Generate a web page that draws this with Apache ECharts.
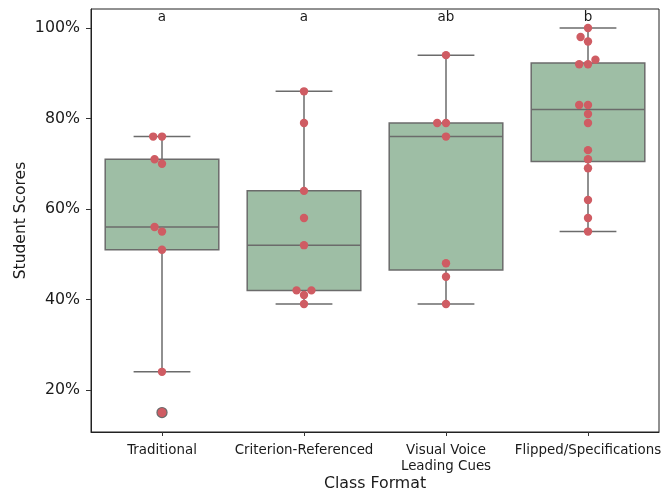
<!DOCTYPE html>
<html><head><meta charset="utf-8">
<script src="https://cdn.jsdelivr.net/npm/echarts@6/dist/echarts.min.js"></script>
<style>html,body{margin:0;padding:0;background:#fff}#c{width:663px;height:497px}</style>
</head><body><div id="c"></div>
<script>
const categories = ['Traditional', 'Criterion-Referenced', 'Visual Voice\nLeading Cues', 'Flipped/Specifications'];
const letters = ['a', 'a', 'ab', 'b'];
const traditional = [76, 76, 71, 70, 56, 55, 51, 24, 15];
const criterion = [86, 79, 64, 58, 52, 42, 42, 41, 39];
const visualVoice = [94, 79, 79, 76, 48, 45, 39];
const flipped = [100, 98, 97, 93, 92, 92, 83, 83, 81, 79, 73, 71, 69, 62, 58, 55];
const yTicks = [20, 40, 60, 80, 100];
const groups = [traditional, criterion, visualVoice, flipped];

const FONT = 'DejaVu Sans';
const TXT = '#1a1a1a';
const BOX_FILL = '#9ebea5';
const EDGE = '#6b6b6b';
const DOT = '#cf5c63';
const R = 4.2;

function quantile(s, p) {
  const pos = (s.length - 1) * p, lo = Math.floor(pos), hi = Math.ceil(pos);
  return s[lo] + (s[hi] - s[lo]) * (pos - lo);
}
const stats = groups.map((g, i) => {
  const s = [...g].sort((a, b) => a - b);
  const q1 = quantile(s, 0.25), med = quantile(s, 0.5), q3 = quantile(s, 0.75);
  const iqr = q3 - q1;
  const lo = s.find(v => v >= q1 - 1.5 * iqr);
  const hi = [...s].reverse().find(v => v <= q3 + 1.5 * iqr);
  return { i, lo, q1, med, q3, hi, fliers: s.filter(v => v < lo || v > hi) };
});
const boxData = stats.map(s => [s.i, s.lo, s.q1, s.med, s.q3, s.hi]);
const flierData = [];
stats.forEach(s => s.fliers.forEach(v => flierData.push([s.i, v])));
const pointData = [];
groups.forEach((g, i) => g.forEach((v, k) => pointData.push([i, v, k])));
const letterData = letters.map((l, i) => [i, 0]);

const swarmCache = {};
function swarmOffsets(gi, ppu) {
  const key = gi + '_' + ppu.toFixed(5);
  if (swarmCache[key]) return swarmCache[key];
  const vals = groups[gi];
  const order = vals.map((v, k) => k).sort((a, b) => vals[a] - vals[b]);
  const d = 2 * R;
  const placed = [], off = new Array(vals.length);
  order.forEach(k => {
    const y = vals[k] * ppu;
    const neigh = placed.filter(p => Math.abs(p.y - y) < d);
    const cands = [0];
    neigh.forEach(p => {
      const dy = y - p.y;
      const dx = Math.sqrt(Math.max(d * d - dy * dy, 0)) * 1.05;
      cands.push(p.x - dx, p.x + dx);
    });
    const sc = cands.map((c, idx) => ({ c, idx })).sort((a, b) => (Math.abs(a.c) - Math.abs(b.c)) || (a.idx - b.idx));
    let x = 0;
    for (const o of sc) {
      if (neigh.every(p => Math.hypot(p.x - o.c, p.y - y) >= d * 0.999)) { x = o.c; break; }
    }
    placed.push({ x, y });
    off[k] = x;
  });
  swarmCache[key] = off;
  return off;
}

const chart = echarts.init(document.getElementById('c'));
chart.setOption({
  animation: false,
  backgroundColor: '#fff',
  textStyle: { fontFamily: FONT },
  grid: { left: 91, right: 4, top: 9, bottom: 65, containLabel: false, outerBoundsMode: 'none', show: true, borderColor: '#222', borderWidth: 1, backgroundColor: 'transparent' },
  xAxis: {
    type: 'category', data: categories,
    name: 'Class Format', nameLocation: 'middle', nameGap: 44, nameMoveOverlap: false,
    nameTextStyle: { fontSize: 15.8, color: TXT, fontFamily: FONT },
    axisLine: { show: true, lineStyle: { color: '#222', width: 1 } },
    axisTick: { show: true, alignWithLabel: true, length: 4, lineStyle: { color: '#333' } },
    axisLabel: { fontSize: 13.4, color: TXT, margin: 11, lineHeight: 16, fontFamily: FONT, interval: 0 },
    splitLine: { show: false }
  },
  yAxis: {
    type: 'value', min: 10.7, max: 104.2,
    name: 'Student Scores', nameLocation: 'middle', nameGap: 62, nameRotate: 90, nameMoveOverlap: false,
    nameTextStyle: { fontSize: 15.5, color: TXT, fontFamily: FONT },
    axisLine: { show: true, lineStyle: { color: '#222', width: 1 } },
    axisTick: { show: true, length: 5, customValues: yTicks, lineStyle: { color: '#333' } },
    axisLabel: { fontSize: 15.8, color: TXT, margin: 11, customValues: yTicks, formatter: '{value}%', fontFamily: FONT },
    splitLine: { show: false }
  },
  series: [
    {
      type: 'custom', name: 'box', data: boxData, encode: { x: 0, y: [1, 2, 3, 4, 5] }, z: 2,
      renderItem: (params, api) => {
        const gi = api.value(0);
        const band = api.size([1, 0])[0];
        const x = api.coord([gi, 0])[0];
        const y = k => api.coord([gi, api.value(k)])[1];
        const yLo = y(1), yQ1 = y(2), yMed = y(3), yQ3 = y(4), yHi = y(5);
        const hw = band * 0.4, cw = band * 0.2;
        const ls = { stroke: EDGE, lineWidth: 1.5, fill: null };
        return {
          type: 'group', children: [
            { type: 'line', shape: { x1: x, y1: yQ1, x2: x, y2: yLo }, style: ls },
            { type: 'line', shape: { x1: x, y1: yQ3, x2: x, y2: yHi }, style: ls },
            { type: 'line', shape: { x1: x - cw, y1: yLo, x2: x + cw, y2: yLo }, style: ls },
            { type: 'line', shape: { x1: x - cw, y1: yHi, x2: x + cw, y2: yHi }, style: ls },
            { type: 'rect', shape: { x: x - hw, y: yQ3, width: 2 * hw, height: yQ1 - yQ3 }, style: { fill: BOX_FILL, stroke: EDGE, lineWidth: 1.5 } },
            { type: 'line', shape: { x1: x - hw, y1: yMed, x2: x + hw, y2: yMed }, style: ls }
          ]
        };
      }
    },
    {
      type: 'custom', name: 'fliers', data: flierData, encode: { x: 0, y: 1 }, z: 3,
      renderItem: (params, api) => {
        const c = api.coord([api.value(0), api.value(1)]);
        return { type: 'circle', shape: { cx: c[0], cy: c[1], r: 5 }, style: { fill: DOT, stroke: EDGE, lineWidth: 1.3 } };
      }
    },
    {
      type: 'custom', name: 'points', data: pointData, encode: { x: 0, y: 1 }, z: 4,
      renderItem: (params, api) => {
        const gi = api.value(0), v = api.value(1), k = api.value(2);
        const c = api.coord([gi, v]);
        const ppu = api.size([0, 1])[1];
        const off = swarmOffsets(gi, ppu);
        return { type: 'circle', shape: { cx: c[0] + off[k], cy: c[1], r: R }, style: { fill: DOT } };
      }
    },
    {
      type: 'custom', name: 'letters', data: letterData, encode: { x: 0 }, z: 5,
      renderItem: (params, api) => {
        const gi = api.value(0);
        const x = api.coord([gi, 50])[0];
        const top = params.coordSys.y;
        return { type: 'text', style: { x: x, y: top + 8.5, text: letters[gi], fill: TXT, font: '13.5px "' + FONT + '"', align: 'center', verticalAlign: 'middle' } };
      }
    }
  ]
});
</script>
</body></html>
